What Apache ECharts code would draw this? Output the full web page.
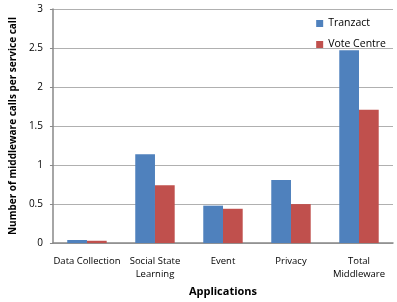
<!DOCTYPE html>
<html>
<head>
<meta charset="utf-8">
<script src="https://cdn.jsdelivr.net/npm/echarts@6/dist/echarts.min.js"></script>
<style>
  html, body { margin: 0; padding: 0; background: #fff; }
  #chart { width: 397px; height: 302px; }
</style>
</head>
<body>
<div id="chart"></div>
<script>
// categories and values
var categories = ["Data Collection", "Social State\nLearning", "Event", "Privacy", "Total\nMiddleware"];
var tranzact = [0.04, 1.14, 0.48, 0.81, 2.47];
var voteCentre = [0.03, 0.74, 0.44, 0.50, 1.71];
var yTicks = [0, 0.5, 1, 1.5, 2, 2.5, 3];

var font = "Open Sans";
var myChart = echarts.init(document.getElementById("chart"));
var option = {
    animation: false,
    textStyle: { fontFamily: font },
    grid: { left: 45, right: 4, top: 9, bottom: 56 },
    legend: {
        orient: "vertical",
        right: 6,
        top: 13,
        itemWidth: 7,
        itemHeight: 7,
        itemGap: 10,
        itemStyle: { borderWidth: 0 },
        icon: "rect",
        textStyle: { fontFamily: font, fontSize: 10.5, color: "#000" },
        data: ["Tranzact", "Vote Centre"]
    },
    xAxis: {
        type: "category",
        data: categories,
        name: "Applications",
        nameLocation: "middle",
        nameGap: 42,
        nameTextStyle: { fontFamily: font, fontSize: 11, fontWeight: "bold", color: "#000" },
        axisLine: { lineStyle: { color: "#888", width: 1.5 } },
        axisTick: { show: false },
        axisLabel: { color: "#000", fontSize: 9.5, margin: 12, lineHeight: 13, interval: 0 }
    },
    yAxis: {
        type: "value",
        min: yTicks[0],
        max: yTicks[yTicks.length - 1],
        interval: 0.5,
        name: "Number of middleware calls per service call",
        nameLocation: "middle",
        nameGap: 31,
        nameTextStyle: { fontFamily: font, fontSize: 10, fontWeight: "bold", color: "#000" },
        axisLine: { show: true, lineStyle: { color: "#888", width: 1.5 } },
        axisTick: { show: true, length: 3, lineStyle: { color: "#888" } },
        axisLabel: { color: "#000", fontSize: 10, margin: 10 },
        splitLine: { lineStyle: { color: "#b0b0b0" } }
    },
    series: [
        {
            name: "Tranzact",
            type: "bar",
            data: tranzact,
            barGap: "0%",
            barCategoryGap: "42%",
            itemStyle: { color: "#4F81BD" }
        },
        {
            name: "Vote Centre",
            type: "bar",
            data: voteCentre,
            itemStyle: { color: "#C0504D" }
        }
    ]
};
myChart.setOption(option);
</script>
</body>
</html>
